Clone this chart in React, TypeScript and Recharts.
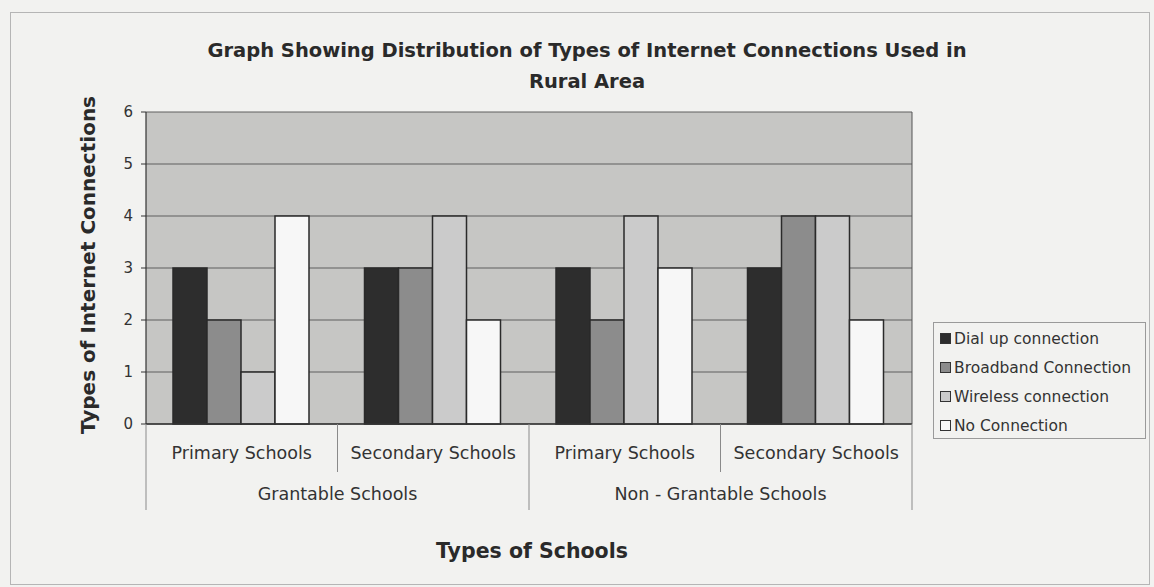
import { BarChart, Bar, XAxis, YAxis, CartesianGrid } from "recharts";

const schoolLevels = ["Primary Schools", "Secondary Schools", "Primary Schools", "Secondary Schools"];
const schoolGroups = ["Grantable Schools", "Grantable Schools", "Non - Grantable Schools", "Non - Grantable Schools"];
const dialUp = [3, 3, 3, 3];
const broadband = [2, 3, 2, 4];
const wireless = [1, 4, 4, 4];
const noConnection = [4, 2, 3, 2];
const yTicks = [0, 1, 2, 3, 4, 5, 6];

const series = [
  { key: "dial", name: "Dial up connection", values: dialUp, color: "#2d2d2d" },
  { key: "broad", name: "Broadband Connection", values: broadband, color: "#8c8c8c" },
  { key: "wireless", name: "Wireless connection", values: wireless, color: "#cbcbcb" },
  { key: "none", name: "No Connection", values: noConnection, color: "#f7f7f7" },
];

const data = schoolLevels.map((level, i) => {
  const row: Record<string, number | string> = { idx: i, level, group: schoolGroups[i] };
  series.forEach((s) => (row[s.key] = s.values[i]));
  return row;
});

const W = 1154;
const H = 587;
const margin = { top: 112, right: 241, bottom: 73, left: 86 };
const yAxisWidth = 60;
const plotWidth = W - margin.left - yAxisWidth - margin.right - 1;
const band = plotWidth / schoolLevels.length;
const font = "'DejaVu Sans', sans-serif";

function SchoolTick(props: any) {
  const { x, y, payload } = props;
  const i = payload.value as number;
  const left = x - band / 2;
  const right = x + band / 2;
  const groupStart = i === 0 || schoolGroups[i] !== schoolGroups[i - 1];
  const groupEnd = i === schoolLevels.length - 1 || schoolGroups[i] !== schoolGroups[i + 1];
  return (
    <g>
      <line x1={left} x2={left} y1={y} y2={y + (groupStart ? 86 : 48)} stroke="#8a8a8a" />
      {i === schoolLevels.length - 1 && (
        <line x1={right} x2={right} y1={y} y2={y + 86} stroke="#8a8a8a" />
      )}
      <text x={x} y={y + 35} textAnchor="middle" fontFamily={font} fontSize={17.5} fill="#333">
        {schoolLevels[i]}
      </text>
      {groupEnd && (
        <text
          x={groupStart ? x : x - band / 2}
          y={y + 76}
          textAnchor="middle"
          fontFamily={font}
          fontSize={17.5}
          fill="#333"
        >
          {schoolGroups[i]}
        </text>
      )}
    </g>
  );
}

export default function App() {
  return (
    <div
      style={{
        position: "absolute",
        left: 0,
        top: 0,
        width: W,
        height: H,
        background: "#f2f2f0",
        fontFamily: font,
        overflow: "hidden",
      }}
    >
      <div
        style={{
          position: "absolute",
          left: 10,
          top: 12,
          width: 1140,
          height: 573,
          border: "1px solid #b5b5b5",
          boxSizing: "border-box",
        }}
      />
      <div
        style={{
          position: "absolute",
          left: 0,
          width: 1174,
          top: 35,
          textAlign: "center",
          fontWeight: "bold",
          fontSize: 19.5,
          lineHeight: "31px",
          color: "#2a2a2a",
        }}
      >
        Graph Showing Distribution of Types of Internet Connections Used in
        <br />
        Rural Area
      </div>
      <div
        style={{
          position: "absolute",
          left: 88,
          top: 265,
          transform: "translate(-50%, -50%) rotate(-90deg)",
          whiteSpace: "nowrap",
          fontWeight: "bold",
          fontSize: 20,
          color: "#2a2a2a",
        }}
      >
        Types of Internet Connections
      </div>
      <div
        style={{
          position: "absolute",
          left: 532,
          top: 551,
          transform: "translate(-50%, -50%)",
          whiteSpace: "nowrap",
          fontWeight: "bold",
          fontSize: 20.5,
          color: "#2a2a2a",
        }}
      >
        Types of Schools
      </div>
      <BarChart
        width={W}
        height={H}
        data={data}
        margin={margin}
        barCategoryGap={27}
        barGap={0}
        style={{ position: "absolute", left: 0, top: 0 }}
      >
        <CartesianGrid vertical={false} fill="#c6c6c4" fillOpacity={1} stroke="#5e5e5e" strokeWidth={1.2} />
        <XAxis
          dataKey="idx"
          height={90}
          tickLine={false}
          tickSize={0}
          tickMargin={0}
          interval={0}
          axisLine={{ stroke: "#333", strokeWidth: 1.5 }}
          tick={<SchoolTick />}
        />
        <YAxis
          width={yAxisWidth}
          domain={[0, 6]}
          ticks={yTicks}
          interval={0}
          tickSize={5}
          tickMargin={8}
          axisLine={{ stroke: "#333", strokeWidth: 1.2 }}
          tickLine={{ stroke: "#333" }}
          tick={{ fontFamily: font, fontSize: 15, fill: "#333" }}
        />
        <YAxis
          yAxisId="frame"
          orientation="right"
          width={1}
          domain={[0, 6]}
          tick={false}
          tickLine={false}
          axisLine={{ stroke: "#555" }}
        />
        {series.map((s) => (
          <Bar
            key={s.key}
            dataKey={s.key}
            name={s.name}
            fill={s.color}
            stroke="#2a2a2a"
            strokeWidth={1.5}
            isAnimationActive={false}
          />
        ))}
      </BarChart>
      <div
        style={{
          position: "absolute",
          left: 933,
          top: 322,
          width: 213,
          height: 117,
          border: "1px solid #9a9a9a",
          boxSizing: "border-box",
          padding: "1px 0 0 6px",
        }}
      >
        {series.map((s) => (
          <div
            key={s.key}
            style={{ display: "flex", alignItems: "center", height: 29, fontSize: 15.5, color: "#333" }}
          >
            <span
              style={{
                width: 9,
                height: 9,
                background: s.color,
                border: "1.5px solid #333",
                marginRight: 3,
                display: "inline-block",
                flexShrink: 0,
              }}
            />
            {s.name}
          </div>
        ))}
      </div>
    </div>
  );
}
